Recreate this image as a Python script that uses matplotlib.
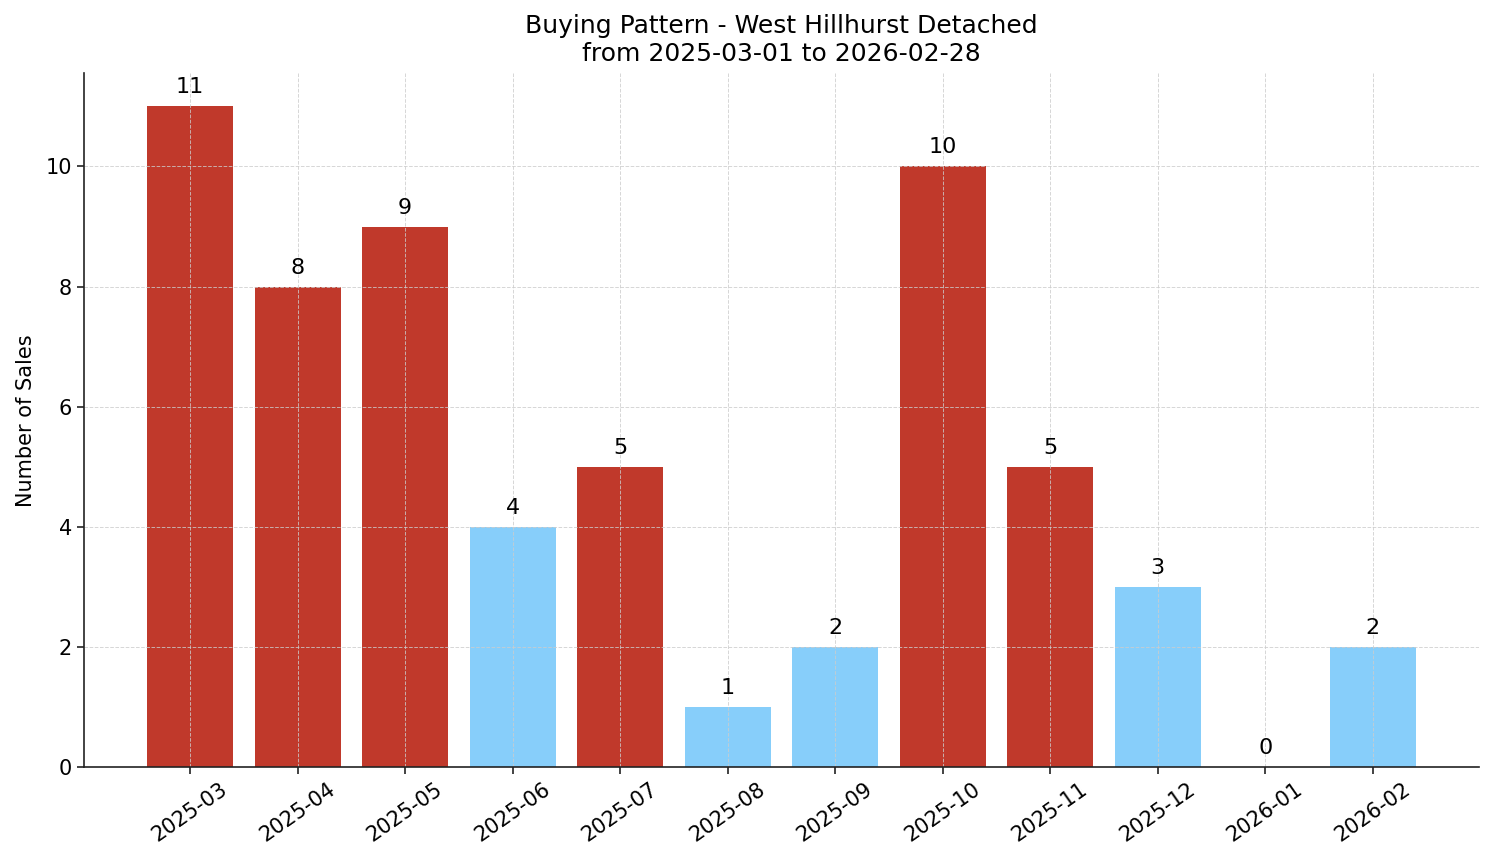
import numpy as np
import matplotlib.pyplot as plt

# Données du graphique
months = ["2025-03", "2025-04", "2025-05", "2025-06", "2025-07", "2025-08",
          "2025-09", "2025-10", "2025-11", "2025-12", "2026-01", "2026-02"]
sales = [11, 8, 9, 4, 5, 1, 2, 10, 5, 3, 0, 2]

RED = "#c0392b"
BLUE = "#87cefa"

fig, ax = plt.subplots(figsize=(14.94, 8.63), dpi=100)
fig.subplots_adjust(left=0.056, right=0.99, top=0.915, bottom=0.111)

# rouge si au-dessus de la moyenne
mean = np.mean(sales)
colors = [RED if v >= mean else BLUE for v in sales]

x = np.arange(len(months))
ax.bar(x, sales, color=colors, width=0.8)

for xi, v in zip(x, sales):
    ax.text(xi, v + 0.15, str(v), ha="center", va="bottom", fontsize=16)

ax.set_xticks(x)
ax.set_xticklabels(months, rotation=35, fontsize=15)
ax.tick_params(axis="y", labelsize=15)
ax.tick_params(length=5, width=1.2, color="#222222")
ax.set_ylabel("Number of Sales", fontsize=15, labelpad=7)
ax.set_title("Buying Pattern - West Hillhurst Detached\nfrom 2025-03-01 to 2026-02-28",
             fontsize=18, pad=9)
ax.set_ylim(0, 11.55)
ax.grid(True, linestyle="--", color="#cccccc", linewidth=0.7, alpha=0.8)
ax.spines["top"].set_visible(False)
ax.spines["right"].set_visible(False)
for s in ("left", "bottom"):
    ax.spines[s].set_color("#222222")
    ax.spines[s].set_linewidth(1.2)

fig.savefig("out.png", dpi=100)
